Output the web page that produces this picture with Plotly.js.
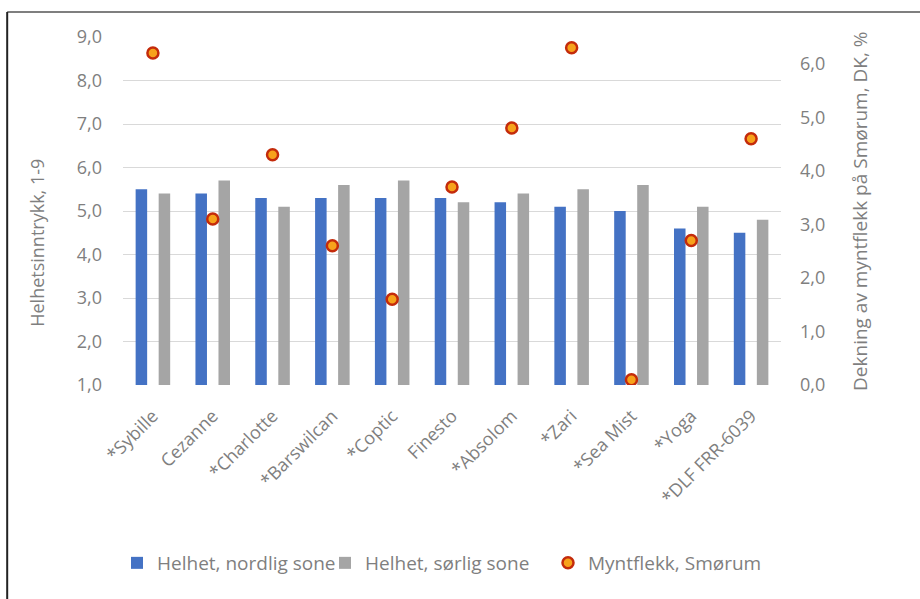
<!DOCTYPE html>
<html>
<head>
<meta charset="utf-8">
<script src="https://cdn.plot.ly/plotly-3.0.1.min.js"></script>
<style>html,body{margin:0;padding:0;background:#fff;}#chart{width:920px;height:599px;}</style>
</head>
<body>
<div id="chart"></div>
<script>
const categories = ["*Sybille","Cezanne","*Charlotte","*Barswilcan","*Coptic","Finesto","*Absolom","*Zari","*Sea Mist","*Yoga","*DLF FRR-6039"];
const helhetNordlig = [5.5,5.4,5.3,5.3,5.3,5.3,5.2,5.1,5.0,4.6,4.5];
const helhetSorlig  = [5.4,5.7,5.1,5.6,5.7,5.2,5.4,5.5,5.6,5.1,4.8];
const myntflekk     = [6.2,3.1,4.3,2.6,1.6,3.7,4.8,6.3,0.1,2.7,4.6];
const leftTicks = [1,2,3,4,5,6,7,8,9];
const rightTicks = [0,1,2,3,4,5,6];
const fmt = v => v.toFixed(1).replace('.', ',');

const FONT = '"Open Sans", "Liberation Sans", sans-serif';
const GRAY = '#7f7f7f';

const traces = [
  {type:'bar', name:'Helhet, nordlig sone', x:categories, y:helhetNordlig,
   marker:{color:'#4472C4'}, yaxis:'y', legend:'legend'},
  {type:'bar', name:'Helhet, sørlig sone', x:categories, y:helhetSorlig,
   marker:{color:'#A5A5A5'}, yaxis:'y', legend:'legend2'},
  {type:'scatter', mode:'markers', name:'Myntflekk, Smørum', x:categories, y:myntflekk, yaxis:'y2', legend:'legend3',
   marker:{symbol:'circle', size:11, color:'#F7A21B', line:{color:'#C42B0B', width:2.5}}}
];

const legendBase = {orientation:'h', xref:'container', yref:'container', y:1-563/599,
  xanchor:'left', yanchor:'middle', font:{size:19, color:GRAY}, bgcolor:'rgba(0,0,0,0)'};

const layout = {
  width:920, height:599,
  margin:{l:123, r:139, t:37, b:214, autoexpand:false},
  paper_bgcolor:'#ffffff', plot_bgcolor:'#ffffff',
  font:{family:FONT, color:GRAY, size:16},
  barmode:'group', bargap:0.23, bargroupgap:0.5,
  showlegend:true,
  legend:Object.assign({}, legendBase, {x:117/920}),
  legend2:Object.assign({}, legendBase, {x:325/920}),
  legend3:Object.assign({}, legendBase, {x:548/920}),
  xaxis:{type:'category', range:[-0.5, 10.5], tickangle:-45, tickfont:{size:18, color:GRAY}, showgrid:false,
         showline:false, ticks:'', zeroline:false, automargin:false, ticklabelstandoff:16, ticklabelshift:0},
  yaxis:{range:[1,9], tickvals:leftTicks, ticktext:leftTicks.map(fmt), showgrid:true,
         gridcolor:'#d9d9d9', gridwidth:1, zeroline:false, showline:false, automargin:false,
         tickfont:{size:18, color:GRAY}, ticklabelstandoff:20},
  yaxis2:{range:[0,6.5], overlaying:'y', side:'right', tickvals:rightTicks, ticktext:rightTicks.map(fmt),
          showgrid:false, zeroline:false, showline:false, automargin:false,
          tickfont:{size:18, color:GRAY}, ticklabelstandoff:18},
  annotations:[
    {text:'Helhetsinntrykk, 1-9', xref:'paper', yref:'paper', x:-0.13, y:0.41, xanchor:'center', yanchor:'middle',
     textangle:-90, showarrow:false, font:{size:18, color:GRAY}},
    {text:'Dekning av myntflekk på Smørum, DK, %', xref:'paper', yref:'paper', x:1.12, y:0.5, xanchor:'center', yanchor:'middle',
     textangle:-90, showarrow:false, font:{size:19, color:GRAY}}
  ],
  shapes:[
    {type:'line', xref:'paper', yref:'paper', x0:-0.176, x1:1.3, y0:1+25/348, y1:1+25/348, line:{color:'#555555', width:1.5}},
    {type:'line', xref:'paper', yref:'paper', x0:-0.176, x1:-0.176, y0:1+25/348, y1:-0.7, line:{color:'#222222', width:2}}
  ]
};

Plotly.newPlot('chart', traces, layout, {displayModeBar:false, staticPlot:true});
</script>
</body>
</html>
